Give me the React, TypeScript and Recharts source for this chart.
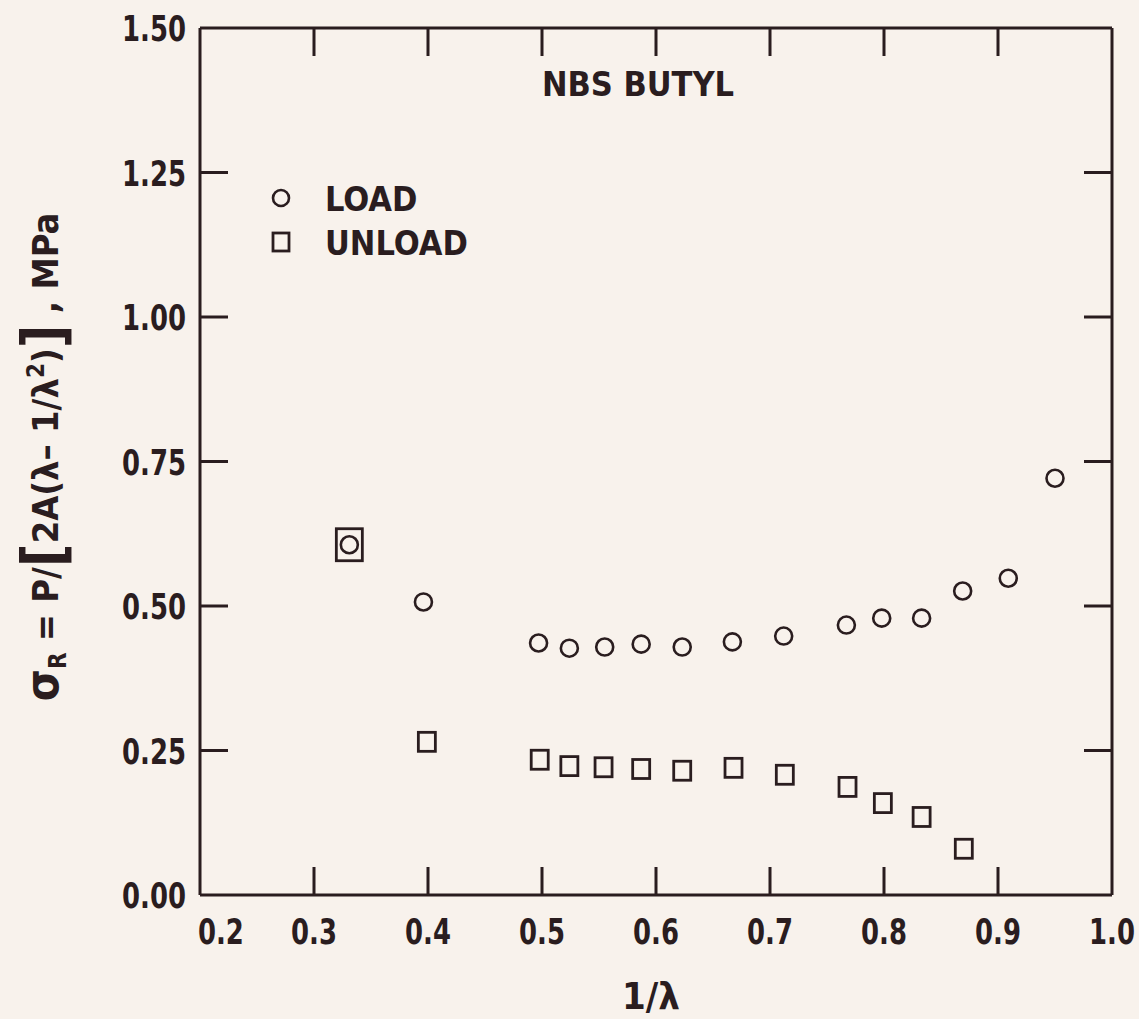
import React from 'react';
import { ScatterChart, Scatter, XAxis, YAxis, Customized } from 'recharts';

const loadX = [0.331, 0.396, 0.497, 0.524, 0.555, 0.587, 0.623, 0.667, 0.712, 0.767, 0.798, 0.833, 0.869, 0.909, 0.95];
const loadY = [0.606, 0.507, 0.436, 0.427, 0.429, 0.434, 0.429, 0.438, 0.448, 0.467, 0.479, 0.479, 0.526, 0.548, 0.721];
const unloadX = [0.331, 0.399, 0.498, 0.524, 0.554, 0.587, 0.623, 0.668, 0.713, 0.768, 0.799, 0.833, 0.87];
const unloadY = [0.606, 0.265, 0.234, 0.223, 0.221, 0.218, 0.215, 0.22, 0.208, 0.187, 0.159, 0.135, 0.08];

const xTickValues = [0.2, 0.3, 0.4, 0.5, 0.6, 0.7, 0.8, 0.9, 1.0];
const yTickValues = [0, 0.25, 0.5, 0.75, 1.0, 1.25, 1.5];
const seriesNames = ['LOAD', 'UNLOAD'];
const titleText = 'NBS BUTYL';
const xLabelText = '1/λ';

const INK = '#2a1d1f';
const BG = '#f8f2ec';
const FONT = '"DejaVu Sans Condensed", "DejaVu Sans", sans-serif';

const loadData = loadX.map((x, i) => ({ x, y: loadY[i] }));
const unloadData = unloadX.map((x, i) => ({ x, y: unloadY[i] }));

const X_MIN = 0.2, X_MAX = 1.0, Y_MIN = 0, Y_MAX = 1.5;
const TICK_LEN = 28;
const SX = 0.8;

const NarrowText = ({ x, y, anchor, size, children }: any) => (
  <text transform={`translate(${x},${y}) scale(${SX},1)`} x={0} y={0} textAnchor={anchor} fill={INK}
    fontFamily={FONT} fontWeight="bold" fontSize={size}>
    {children}
  </text>
);

const BottomTick = (props: any) => {
  const { x, y, payload } = props;
  const v = payload.value as number;
  const inner = v > X_MIN + 1e-9 && v < X_MAX - 1e-9;
  const isFirst = Math.abs(v - X_MIN) < 1e-9;
  return (
    <g>
      {inner && <line x1={x} y1={y} x2={x} y2={y - TICK_LEN} stroke={INK} strokeWidth={3} />}
      <NarrowText x={isFirst ? x - 2 : x} y={y + 49} anchor={isFirst ? 'start' : 'middle'} size={36}>
        {v.toFixed(1)}
      </NarrowText>
    </g>
  );
};

const TopTick = (props: any) => {
  const { x, y, payload } = props;
  const v = payload.value as number;
  const inner = v > X_MIN + 1e-9 && v < X_MAX - 1e-9;
  return inner ? <line x1={x} y1={y} x2={x} y2={y + TICK_LEN} stroke={INK} strokeWidth={3} /> : <g />;
};

const LeftTick = (props: any) => {
  const { x, y, payload } = props;
  const v = payload.value as number;
  const inner = v > Y_MIN + 1e-9 && v < Y_MAX - 1e-9;
  return (
    <g>
      {inner && <line x1={x} y1={y} x2={x + TICK_LEN} y2={y} stroke={INK} strokeWidth={3} />}
      <NarrowText x={x - 14} y={y + 13} anchor="end" size={36}>
        {v.toFixed(2)}
      </NarrowText>
    </g>
  );
};

const RightTick = (props: any) => {
  const { x, y, payload } = props;
  const v = payload.value as number;
  const inner = v > Y_MIN + 1e-9 && v < Y_MAX - 1e-9;
  return inner ? <line x1={x} y1={y} x2={x - TICK_LEN} y2={y} stroke={INK} strokeWidth={3} /> : <g />;
};

const CircleShape = (props: any) => {
  const { cx, cy } = props;
  if (cx == null || cy == null) return <g />;
  return <circle cx={cx} cy={cy} r={8.5} fill="none" stroke={INK} strokeWidth={2.6} />;
};

const SquareShape = (props: any) => {
  const { cx, cy, payload } = props;
  if (cx == null || cy == null) return <g />;
  const overlap = loadData.some((d) => Math.abs(d.x - payload.x) < 1e-6 && Math.abs(d.y - payload.y) < 1e-6);
  const w = overlap ? 26 : 17;
  const h = overlap ? 32 : 19;
  return <rect x={cx - w / 2} y={cy - h / 2} width={w} height={h} fill="none" stroke={INK} strokeWidth={2.8} />;
};

const Texts = () => (
  <g fill={INK} fontFamily={FONT} fontWeight="bold">
    <text x={638} y={96} textAnchor="middle" fontSize={34}>{titleText}</text>
    {/* legend */}
    <circle cx={281} cy={198} r={8} fill="none" stroke={INK} strokeWidth={2.6} />
    <text x={325} y={211} fontSize={34}>{seriesNames[0]}</text>
    <rect x={273} y={233} width={16} height={18} fill="none" stroke={INK} strokeWidth={2.8} />
    <text x={325} y={255} fontSize={34}>{seriesNames[1]}</text>
    <text x={651} y={1009} textAnchor="middle" fontSize={38}>{xLabelText}</text>
    <text x={58} y={457} textAnchor="middle" fontSize={36} transform="rotate(-90, 58, 457)">
      <tspan fontSize={46}>σ</tspan>
      <tspan fontSize={24} dy={8}>R</tspan>
      <tspan dy={-8}>{' = P/'}</tspan>
      <tspan fontSize={58} dy={6}>[</tspan>
      <tspan dy={-6}>{'2A(λ– 1/λ'}</tspan>
      <tspan fontSize={24} dy={-14}>2</tspan>
      <tspan dy={14}>)</tspan>
      <tspan fontSize={58} dy={6}>]</tspan>
      <tspan dy={-6}>{' , MPa'}</tspan>
    </text>
  </g>
);

export default function App() {
  return (
    <div style={{ position: 'absolute', left: 0, top: 0, width: 1139, height: 1019, background: BG }}>
      <ScatterChart width={1139} height={1019} margin={{ top: 27, right: 26, bottom: 123, left: 199 }}>
        <XAxis xAxisId="b" type="number" dataKey="x" domain={[X_MIN, X_MAX]} ticks={xTickValues}
          orientation="bottom" height={1} tickSize={0} tickMargin={0} tick={<BottomTick />}
          axisLine={{ stroke: INK, strokeWidth: 3 }} tickLine={false} allowDataOverflow interval={0} />
        <XAxis xAxisId="t" type="number" dataKey="x" domain={[X_MIN, X_MAX]} ticks={xTickValues}
          orientation="top" height={1} tickSize={0} tickMargin={0} tick={<TopTick />}
          axisLine={{ stroke: INK, strokeWidth: 3 }} tickLine={false} allowDataOverflow interval={0} />
        <YAxis yAxisId="l" type="number" dataKey="y" domain={[Y_MIN, Y_MAX]} ticks={yTickValues}
          orientation="left" width={1} tickSize={0} tickMargin={0} tick={<LeftTick />}
          axisLine={{ stroke: INK, strokeWidth: 3 }} tickLine={false} allowDataOverflow interval={0} />
        <YAxis yAxisId="r" type="number" dataKey="y" domain={[Y_MIN, Y_MAX]} ticks={yTickValues}
          orientation="right" width={1} tickSize={0} tickMargin={0} tick={<RightTick />}
          axisLine={{ stroke: INK, strokeWidth: 3 }} tickLine={false} allowDataOverflow interval={0} />
        <Scatter name={seriesNames[0]} data={loadData} xAxisId="b" yAxisId="l" shape={<CircleShape />} isAnimationActive={false} />
        <Scatter name={seriesNames[1]} data={unloadData} xAxisId="b" yAxisId="l" shape={<SquareShape />} isAnimationActive={false} />
        <Customized component={<Texts />} />
      </ScatterChart>
    </div>
  );
}
